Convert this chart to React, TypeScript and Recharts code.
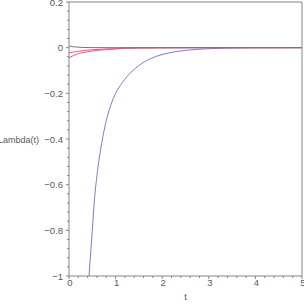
import React from 'react';
import { LineChart, Line, XAxis, YAxis, ReferenceLine, Label } from 'recharts';

// t samples and Lambda(t) values
const blackT = [0, 0.1, 0.2, 0.3, 0.5, 1, 2, 5];
const blackV = [0.007, 0.004, 0.002, 0.001, 0.0003, 0, 0, 0];

const redT = [0, 0.1, 0.2, 0.34, 0.5, 0.77, 1, 1.2, 1.5, 2, 3, 5];
const redV = [-0.022, -0.019, -0.016, -0.012, -0.009, -0.006, -0.004, -0.002, -0.001, -0.0005, 0, 0];

const magentaT = [0, 0.1, 0.2, 0.35, 0.49, 0.77, 1, 1.2, 1.5, 2, 3, 5];
const magentaV = [-0.044, -0.034, -0.026, -0.02, -0.015, -0.009, -0.006, -0.003, -0.002, -0.001, -0.0003, 0];

const blueT = [0.4, 0.43, 0.5, 0.54, 0.6, 0.7, 0.8, 0.9, 1, 1.13, 1.25, 1.4, 1.5, 1.75, 2, 2.25, 2.5, 3, 3.5, 4, 5];
const blueV = [-1.1, -1, -0.8, -0.68, -0.56, -0.42, -0.32, -0.25, -0.2, -0.157, -0.125, -0.095, -0.078, -0.048, -0.03, -0.019, -0.012, -0.0045, -0.0017, -0.0007, -0.0001];

const xMajor = [0, 1, 2, 3, 4, 5];
const xTicks = [0, 0.2, 0.4, 0.6, 0.8, 1, 1.2, 1.4, 1.6, 1.8, 2, 2.2, 2.4, 2.6, 2.8, 3, 3.2, 3.4, 3.6, 3.8, 4, 4.2, 4.4, 4.6, 4.8, 5];
const yMajor = [-1, -0.8, -0.6, -0.4, -0.2, 0, 0.2];
const yTicks = [
  -1, -0.96, -0.92, -0.88, -0.84, -0.8, -0.76, -0.72, -0.68, -0.64, -0.6, -0.56, -0.52, -0.48, -0.44, -0.4,
  -0.36, -0.32, -0.28, -0.24, -0.2, -0.16, -0.12, -0.08, -0.04, 0, 0.04, 0.08, 0.12, 0.16, 0.2,
];

const toPoints = (ts: number[], vs: number[]) => ts.map((t, i) => ({ t, v: vs[i] }));

const AXIS = '#858585';
const TEXT = '#5a5a5a';
const FONT = '"Liberation Sans", Arial, sans-serif';

const isMajor = (list: number[], v: number) => list.some((m) => Math.abs(m - v) < 1e-6);
const fmt = (v: number) => (v < 0 ? '\u2212' + String(Math.abs(v)) : String(v));

const XTick = (props: any) => {
  const { x, y, payload } = props;
  const major = isMajor(xMajor, payload.value);
  return (
    <g>
      <line x1={x} x2={x} y1={y} y2={y + (major ? 3 : 2)} stroke={AXIS} strokeWidth={1} />
      {major && (
        <text x={x + 1} y={y + 10} textAnchor="middle" fontSize={9.5} fill={TEXT} fontFamily={FONT}>
          {fmt(payload.value)}
        </text>
      )}
    </g>
  );
};

const YTick = (props: any) => {
  const { x, y, payload } = props;
  const major = isMajor(yMajor, payload.value);
  return (
    <g>
      <line x1={x} x2={x - (major ? 3 : 2)} y1={y} y2={y} stroke={AXIS} strokeWidth={1} />
      {major && (
        <text x={x - 6} y={y + 3.5} textAnchor="end" fontSize={9.5} fill={TEXT} fontFamily={FONT}>
          {fmt(payload.value)}
        </text>
      )}
    </g>
  );
};

const App = () => {
  return (
    <div style={{ position: 'absolute', left: 0, top: 0, width: 304, height: 304, background: '#fff' }}>
      <LineChart width={304} height={304} margin={{ top: 2, right: 2, bottom: 0, left: 0 }}>
        <XAxis
          type="number"
          dataKey="t"
          domain={[0, 5]}
          ticks={xTicks}
          interval={0}
          height={28}
          tickSize={0}
          tickMargin={0}
          tickLine={false}
          axisLine={{ stroke: AXIS }}
          tick={<XTick />}
          allowDataOverflow
        >
          <Label
            content={(p: any) => (
              <text
                x={p.viewBox.x + p.viewBox.width / 2}
                y={p.viewBox.y + 24}
                textAnchor="middle"
                fontSize={9.5}
                fill={TEXT}
                fontFamily={FONT}
              >
                t
              </text>
            )}
          />
        </XAxis>
        <YAxis
          type="number"
          dataKey="v"
          domain={[-1, 0.2]}
          ticks={yTicks}
          interval={0}
          width={69}
          tickSize={0}
          tickMargin={0}
          tickLine={false}
          axisLine={{ stroke: AXIS }}
          tick={<YTick />}
          allowDataOverflow
        >
          <Label
            content={(p: any) => (
              <text
                x={39}
                y={p.viewBox.y + p.viewBox.height / 2 + 3.5}
                textAnchor="end"
                fontSize={9}
                fill={TEXT}
                fontFamily={FONT}
              >
                Lambda(t)
              </text>
            )}
          />
        </YAxis>
        <ReferenceLine y={0.2} stroke={AXIS} />
        <ReferenceLine x={5} stroke={AXIS} />
        <Line data={toPoints(blueT, blueV)} dataKey="v" type="monotone" stroke="#7b7bd4" strokeWidth={1} dot={false} isAnimationActive={false} />
        <Line data={toPoints(magentaT, magentaV)} dataKey="v" type="monotone" stroke="#ee4fa8" strokeWidth={1} dot={false} isAnimationActive={false} />
        <Line data={toPoints(redT, redV)} dataKey="v" type="monotone" stroke="#ee5a66" strokeWidth={1} dot={false} isAnimationActive={false} />
        <Line data={toPoints(blackT, blackV)} dataKey="v" type="monotone" stroke="#777777" strokeWidth={1} dot={false} isAnimationActive={false} />
      </LineChart>
    </div>
  );
};

export default App;
